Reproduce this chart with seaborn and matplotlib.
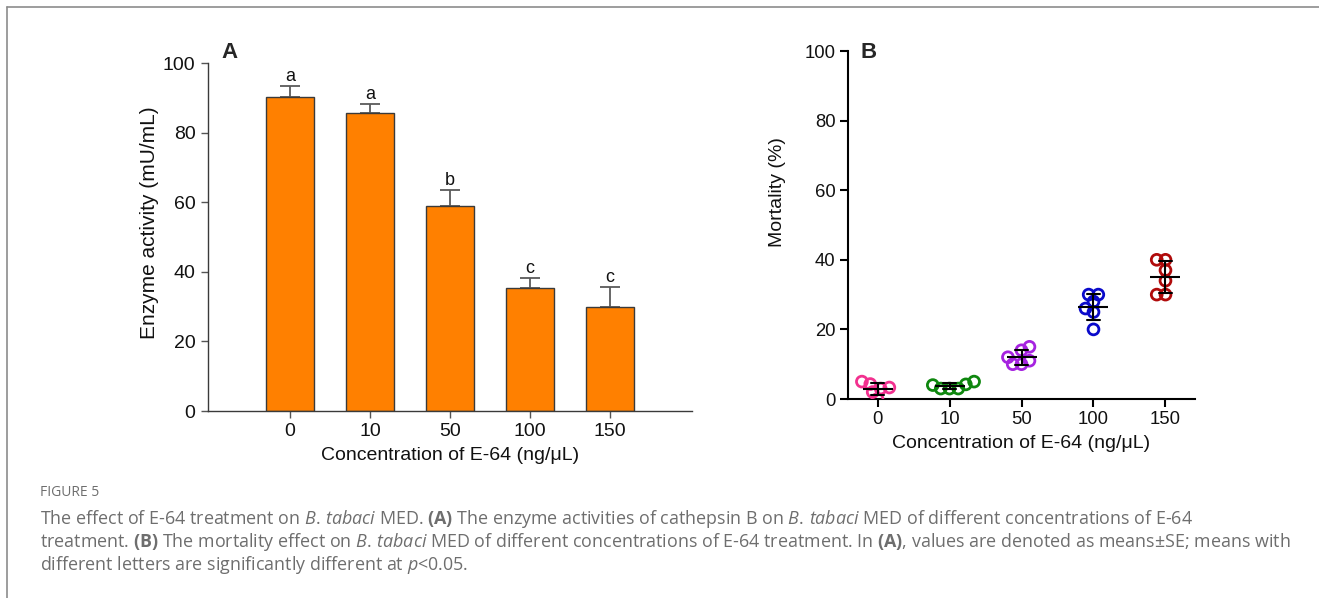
import numpy as np
import pandas as pd
import matplotlib
matplotlib.use("Agg")
import matplotlib.pyplot as plt
import seaborn as sns
from matplotlib.lines import Line2D
from matplotlib.collections import PathCollection

# ---------------- data ----------------
concentrations = ["0", "10", "50", "100", "150"]
enzyme_mean = [90.2, 85.6, 58.9, 35.3, 29.9]
enzyme_se = [3.2, 2.6, 4.6, 2.9, 5.7]
sig_letters = ["a", "a", "b", "c", "c"]

mort_0 = [5.0, 4.3, 3.3, 3.0, 2.0, 0.0]
mort_10 = [5.0, 4.2, 4.0, 3.0, 3.0, 3.0]
mort_50 = [15.0, 14.0, 12.0, 11.0, 10.0, 10.0]
mort_100 = [30.0, 30.0, 28.0, 26.0, 25.0, 20.0]
mort_150 = [40.0, 40.0, 37.0, 34.0, 30.0, 30.0]
point_colors = ["#F2318F", "#0E870E", "#A623E0", "#0A0ACB", "#B00B0B"]

mort_groups = [mort_0, mort_10, mort_50, mort_100, mort_150]
df_mort = pd.DataFrame({
    "conc": [c for c, g in zip(concentrations, mort_groups) for _ in g],
    "mort": [v for g in mort_groups for v in g],
})

# ---------------- style ----------------
sns.set_theme(style="ticks")
plt.rcParams["font.family"] = ["Liberation Sans", "DejaVu Sans"]
plt.rcParams["mathtext.fontset"] = "custom"
plt.rcParams["mathtext.rm"] = "Open Sans"
plt.rcParams["mathtext.it"] = "Open Sans:italic"
plt.rcParams["mathtext.bf"] = "Open Sans:bold"

W, H = 1319, 598
fig = plt.figure(figsize=(W / 100, H / 100), dpi=100)
fig.patch.set_facecolor("white")

# ---------------- panel A ----------------
axA = fig.add_axes([208 / W, 1 - 411 / H, (692 - 208) / W, (411 - 63) / H])
sns.barplot(x=concentrations, y=enzyme_mean, order=concentrations, color="#FF8000",
            saturation=1, width=0.61, edgecolor="#3a3a3a", linewidth=1.0,
            errorbar=None, ax=axA, zorder=2)
axA.errorbar(np.arange(len(concentrations)), enzyme_mean,
             yerr=[np.zeros(len(enzyme_se)), enzyme_se], fmt="none",
             ecolor="#5a5a5a", elinewidth=1.3, capsize=7, capthick=1.3, zorder=1)
for i, (m, s, l) in enumerate(zip(enzyme_mean, enzyme_se, sig_letters)):
    axA.annotate(l, xy=(i, m + s), xytext=(0, 1.0), textcoords="offset points",
                 ha="center", va="bottom", fontsize=13, color="#111111")
axA.set_xlim(-1.025, 5.025)
axA.set_ylim(0, 100)
axA.set_yticks([0, 20, 40, 60, 80, 100])
axA.set_xlabel("Concentration of E-64 (ng/μL)", fontsize=14, color="#111111", labelpad=5)
axA.set_ylabel("Enzyme activity (mU/mL)", fontsize=15, color="#111111")
axA.yaxis.set_label_coords(-0.101, 0.54)
sns.despine(ax=axA)
for sp in ["left", "bottom"]:
    axA.spines[sp].set_color("#3a3a3a")
    axA.spines[sp].set_linewidth(1.0)
axA.tick_params(axis="both", colors="#555555", labelcolor="#111111", labelsize=14,
                length=5, width=1.0, direction="out", pad=4)
axA.set_facecolor("white")
fig.text(230 / W, 1 - 53 / H, "A", fontsize=16, fontweight="bold", ha="center", va="center")

# ---------------- panel B ----------------
axB = fig.add_axes([848 / W, 1 - 399 / H, (1195 - 848) / W, (399 - 51) / H])
sns.pointplot(data=df_mort, x="conc", y="mort", order=concentrations, errorbar="sd",
              capsize=0.18, color="black", marker="_", markersize=21,
              markeredgewidth=1.5, linestyle="none",
              err_kws={"linewidth": 1.5, "zorder": 5}, zorder=5, ax=axB)
# compact swarm layout (computed with a small footprint so rings overlap like the original)
sns.swarmplot(data=df_mort, x="conc", y="mort", hue="conc", order=concentrations,
              hue_order=concentrations, palette=point_colors, size=5.0, linewidth=1.0,
              legend=False, ax=axB)
axB.set_xlim(-0.41, 4.41)
axB.set_ylim(0, 100)
fig.canvas.draw()
for coll in axB.collections:
    if isinstance(coll, PathCollection):
        if "draw" in coll.__dict__:
            del coll.draw
        fc = coll.get_facecolors()
        coll.set_edgecolors(fc)
        coll.set_facecolors("none")
        coll.set_sizes([7.8 ** 2])
        coll.set_linewidth(2.0)
axB.set_xlim(-0.41, 4.41)
axB.set_ylim(0, 100)
axB.set_yticks([0, 20, 40, 60, 80, 100])
axB.set_xlabel("Concentration of E-64 (ng/μL)", fontsize=14, color="#111111", labelpad=5)
axB.set_ylabel("Mortality (%)", fontsize=14, color="#111111")
axB.yaxis.set_label_coords(-0.179, 0.595)
sns.despine(ax=axB)
for sp in ["left", "bottom"]:
    axB.spines[sp].set_color("black")
    axB.spines[sp].set_linewidth(1.5)
axB.tick_params(axis="both", colors="black", labelcolor="#111111", labelsize=13.3,
                length=6, width=1.5, direction="out", pad=3)
axB.set_facecolor("white")
fig.text(869 / W, 1 - 52 / H, "B", fontsize=16, fontweight="bold", ha="center", va="center")

# ---------------- caption & frame ----------------
cap_color = "#6e6e6e"
fig.text(40 / W, 1 - 492 / H, "FIGURE 5", fontsize=10, color=cap_color,
         family="Open Sans", va="center", ha="left")
bt = r"$\mathit{B.}\,\mathit{tabaci}$"
cap_lines = [
    "The effect of E-64 treatment on " + bt + r" MED. $\mathbf{(A)}$ The enzyme activities of cathepsin B on " + bt + " MED of different concentrations of E-64",
    r"treatment. $\mathbf{(B)}$ The mortality effect on " + bt + r" MED of different concentrations of E-64 treatment. In $\mathbf{(A)}$, values are denoted as means±SE; means with",
    r"different letters are significantly different at $\mathit{p}$<0.05.",
]
for k, line in enumerate(cap_lines):
    fig.text(40 / W, 1 - (519 + 23 * k) / H, line, fontsize=12.9, color=cap_color,
             family="Open Sans", va="center", ha="left")

frame_kw = dict(transform=fig.transFigure, color="#8c8c8c", linewidth=1.2)
fig.add_artist(Line2D([7 / W, 1], [1 - 7 / H, 1 - 7 / H], **frame_kw))
fig.add_artist(Line2D([7 / W, 7 / W], [0, 1 - 7 / H], **frame_kw))

fig.savefig("out.png", dpi=100, facecolor="white")
